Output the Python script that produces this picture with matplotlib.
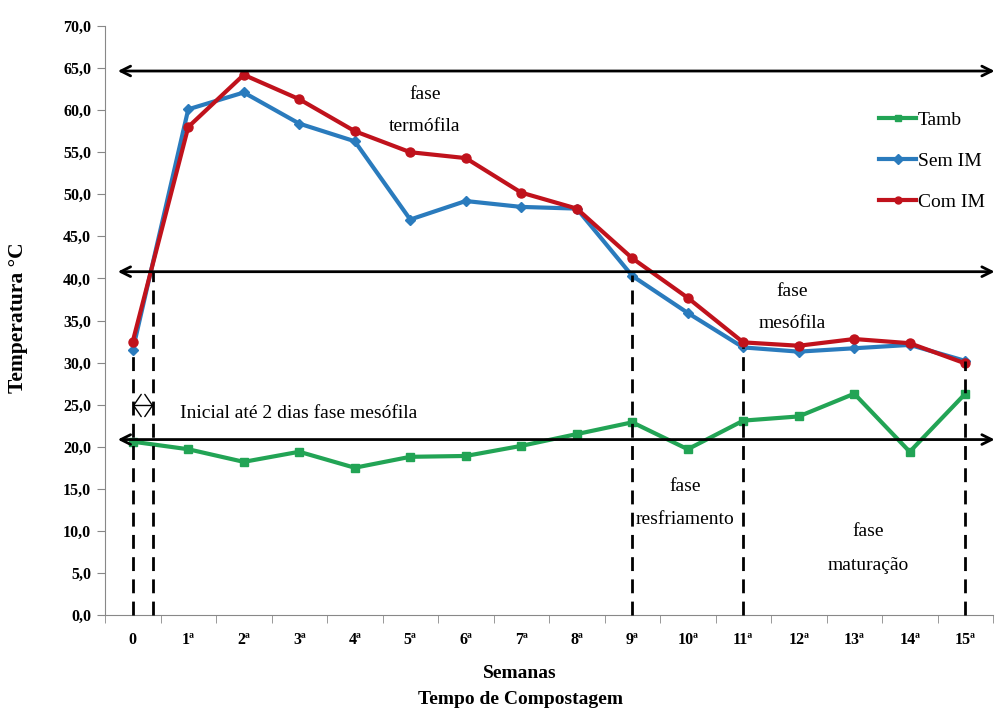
import matplotlib.pyplot as plt
from matplotlib.ticker import FixedLocator, FuncFormatter

# semanas de compostagem
semanas = ["0", "1ª", "2ª", "3ª", "4ª", "5ª", "6ª", "7ª", "8ª",
           "9ª", "10ª", "11ª", "12ª", "13ª", "14ª", "15ª"]
tamb = [20.6, 19.7, 18.2, 19.4, 17.5, 18.8, 18.9, 20.1, 21.5,
        22.9, 19.7, 23.1, 23.6, 26.3, 19.4, 26.3]
sem_im = [31.5, 60.1, 62.1, 58.4, 56.3, 47.0, 49.2, 48.5, 48.3,
          40.3, 35.9, 31.8, 31.3, 31.7, 32.1, 30.2]
com_im = [32.5, 58.0, 64.2, 61.3, 57.5, 55.0, 54.3, 50.2, 48.3,
          42.4, 37.7, 32.4, 32.0, 32.8, 32.3, 29.9]

# limites das fases (setas horizontais) e divisoes verticais
fases_y = [64.65, 40.8, 20.85]
divisoes_x = [0, 0.37, 9, 11, 15]
divisoes_top = [31.5, 40.8, 40.4, 31.8, 30.2]

plt.rcParams['font.family'] = ['Liberation Serif', 'DejaVu Serif']

fig = plt.figure(figsize=(9.97, 7.11), dpi=100)
ax = fig.add_axes([105 / 997, 96 / 711, 888 / 997, 589 / 711])

x = list(range(len(semanas)))
ax.plot(x, tamb, color='#22a455', lw=3, marker='s', ms=6, label='Tamb', zorder=3)
ax.plot(x, sem_im, color='#2a7bbd', lw=3, marker='D', ms=5, label='Sem IM', zorder=4)
ax.plot(x, com_im, color='#c0121c', lw=3, marker='o', ms=6.5, label='Com IM', zorder=5)

# setas das fases
for y in fases_y:
    ax.annotate('', xy=(-0.27, y), xytext=(15.53, y),
                arrowprops=dict(arrowstyle='<->, head_length=0.7, head_width=0.35',
                                lw=2, color='black', shrinkA=0, shrinkB=0),
                annotation_clip=False, zorder=6)

# divisoes tracejadas
for xv, top in zip(divisoes_x, divisoes_top):
    ax.plot([xv, xv], [0, top], color='black', lw=2, ls=(0, (5, 3)),
            zorder=6, clip_on=False)

# pequena seta entre 0 e 2 dias
ax.annotate('', xy=(0.0, 24.9), xytext=(0.37, 24.9),
            arrowprops=dict(arrowstyle='<->, head_length=0.55, head_width=0.8',
                            lw=1, color='black', shrinkA=0, shrinkB=0), zorder=6)

txt = dict(fontsize=14, ha='center', va='center')
ax.text(5.26, 61.8, 'fase', **txt)
ax.text(5.26, 58.0, 'termófila', **txt)
ax.text(11.88, 38.4, 'fase', **txt)
ax.text(11.88, 34.7, 'mesófila', **txt)
ax.text(9.95, 15.3, 'fase', **txt)
ax.text(9.95, 11.3, 'resfriamento', **txt)
ax.text(13.25, 9.9, 'fase', **txt)
ax.text(13.25, 5.9, 'maturação', **txt)
ax.text(0.85, 23.9, 'Inicial até 2 dias fase mesófila', fontsize=14,
        ha='left', va='center')

ax.set_xlim(-0.5, 15.5)
ax.set_ylim(0, 70)
ax.set_yticks([i * 5 for i in range(15)])
ax.yaxis.set_major_formatter(FuncFormatter(lambda v, p: f"{v:.1f}".replace('.', ',')))
ax.set_xticks(x)
ax.set_xticklabels(semanas)
ax.xaxis.set_minor_locator(FixedLocator([i - 0.5 for i in range(17)]))
ax.tick_params(axis='x', which='major', length=0, pad=12)
ax.tick_params(axis='x', which='minor', length=6, color='#888888', direction='out')
ax.tick_params(axis='y', length=6, color='#888888', pad=4)
for lab in ax.get_xticklabels() + ax.get_yticklabels():
    lab.set_fontweight('bold')
    lab.set_fontsize(11.5)

for s in ['top', 'right']:
    ax.spines[s].set_visible(False)
for s in ['left', 'bottom']:
    ax.spines[s].set_color('#888888')

ax.set_ylabel('Temperatura °C', fontsize=15.5, fontweight='bold')
ax.yaxis.set_label_coords(-77 / 888, (615 - 318) / 589)

# titulo do eixo x em duas linhas
fig.text(520 / 997, 1 - 673 / 711, 'Semanas', fontsize=14, fontweight='bold',
         ha='center', va='center')
fig.text(520 / 997, 1 - 699 / 711, 'Tempo de Compostagem', fontsize=14,
         fontweight='bold', ha='center', va='center')

leg = ax.legend(loc='upper left', bbox_to_anchor=(0.863, 0.868), frameon=False,
                fontsize=14, handlelength=1.9, handletextpad=0.1, labelspacing=1.2,
                borderaxespad=0)
for h in leg.legend_handles:
    h.set_markersize(5)

fig.savefig('out.png', dpi=100)
